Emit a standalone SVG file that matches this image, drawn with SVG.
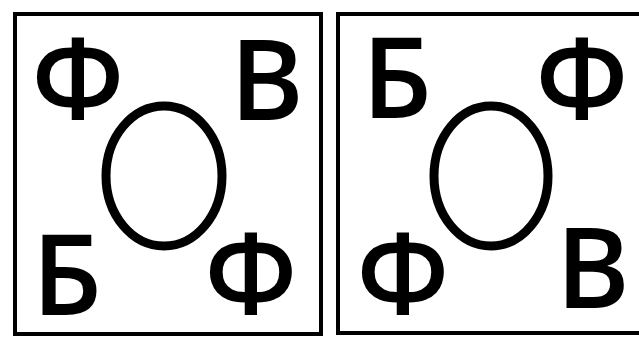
<svg xmlns="http://www.w3.org/2000/svg" width="639" height="340" viewBox="0 0 639 340">
<style>
.frame{fill:none;stroke:#000;stroke-width:4}
.ring{fill:none;stroke:#000;stroke-width:9}
.l{font-family:"Open Sans","Liberation Sans",sans-serif;font-weight:600;font-size:112px;fill:#000;text-anchor:middle}
</style>
<rect width="639" height="340" fill="#fff"/>
<g id="panel-left">
<rect class="frame" x="15" y="14" width="306" height="320"/>
<ellipse class="ring" cx="164" cy="176" rx="58" ry="70"/>
<text class="l" x="78" y="119">Ф</text>
<text class="l" x="267" y="120">В</text>
<text class="l" x="67" y="315">Б</text>
<text class="l" x="251" y="314">Ф</text>
</g>
<g id="panel-right">
<rect class="frame" x="338" y="14" width="310" height="319"/>
<ellipse class="ring" cx="491" cy="176" rx="57" ry="70"/>
<text class="l" x="397" y="118">Б</text>
<text class="l" x="582" y="119">Ф</text>
<text class="l" x="403" y="314">Ф</text>
<text class="l" x="593" y="308">В</text>
</g>
</svg>
